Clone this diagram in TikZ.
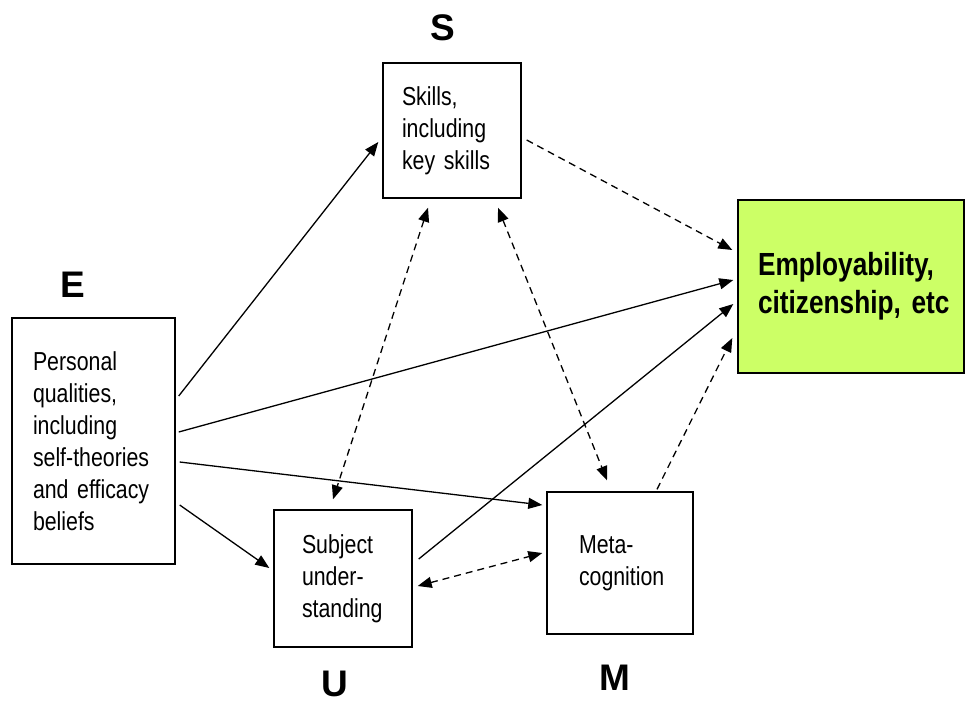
\documentclass[tikz,border=0pt]{standalone}
\usepackage{fontspec}
\setmainfont{Liberation Sans}
\newfontfamily\boxfont[FakeStretch=0.82]{Liberation Sans}
\usetikzlibrary{arrows.meta}
\definecolor{empgreen}{HTML}{CCFF66}
\tikzset{
  box/.style={draw, line width=1.4pt, inner ysep=0pt, align=left,
              font=\boxfont\fontsize{26}{32}\selectfont},
  letter/.style={font=\fontsize{37}{40}\selectfont\bfseries, inner sep=0pt},
  link/.style={line width=1.3pt, -{Triangle[length=14pt,width=11pt]}},
  dlink/.style={link, dash pattern=on 7pt off 5pt},
  ddlink/.style={dlink, {Triangle[length=14pt,width=11pt]}-{Triangle[length=14pt,width=11pt]}},
}
\begin{document}
\begin{tikzpicture}[x=1pt,y=-1pt]

\useasboundingbox (0,0) rectangle (965,702);

 % boxes
 \node[box, text width=100pt, inner xsep=19pt, minimum height=135pt] (S) at (452,130.5)
      {Skills,\\\mbox{including}\\\mbox{key skills}};
 \node[box, text width=121pt, inner xsep=21pt, minimum height=246pt] (E) at (93.5,441)
      {Personal\\\mbox{qualities,}\\\mbox{including}\\\mbox{self-theories}\\\mbox{and efficacy}\\beliefs};
 \node[box, text width=82pt, inner xsep=28pt, minimum height=137pt] (U) at (343,578.5)
      {Subject\\under-\\\mbox{standing}};
 \node[box, text width=82pt, inner xsep=32pt, minimum height=142pt] (M) at (620,563)
      {Meta-\\\mbox{cognition}};
 \node[box, fill=empgreen, text width=186pt, inner xsep=20pt, minimum height=173pt,
       font=\boxfont\bfseries\fontsize{32}{38}\selectfont] (Emp) at (851,286.5)
      {\mbox{Employability,}\\\mbox{citizenship, etc}};

 % letters
 \node[letter] (lS) at (443,28) {S};
 \node[letter] (lE) at (73,285) {E};
 \node[letter] (lU) at (335,684) {U};
 \node[letter] (lM) at (615,678) {M};

 % solid arrows
 \draw[link] ([xshift=3pt,yshift=45pt]E.east) -- ([xshift=-4pt,yshift=-11.5pt]S.west);
 \draw[link] ([xshift=3pt,yshift=9pt]E.east) -- ([xshift=-4pt,yshift=6.5pt]Emp.west);
 \draw[link] ([xshift=4pt,yshift=-21pt]E.east) -- ([xshift=-4pt,yshift=58pt]M.west);
 \draw[link] ([xshift=4pt,yshift=-64pt]E.east) -- ([xshift=-4pt,yshift=10.5pt]U.west);
 \draw[link] ([xshift=6pt,yshift=19.5pt]U.east) -- ([xshift=-4pt,yshift=-17.5pt]Emp.west);

 % dashed arrows
 \draw[dlink] ([xshift=5pt,yshift=-9.5pt]S.east) -- ([xshift=-5pt,yshift=36.5pt]Emp.west);
 \draw[dlink] ([xshift=37pt,yshift=2pt]M.north) -- ([xshift=-5pt,yshift=-51.5pt]Emp.west);
 \draw[ddlink] ([xshift=-24pt,yshift=-9pt]S.south) -- ([xshift=-10pt,yshift=10pt]U.north);
 \draw[ddlink] ([xshift=46pt,yshift=-9pt]S.south) -- ([xshift=-13pt,yshift=11pt]M.north);
 \draw[ddlink] ([xshift=5pt,yshift=-7.5pt]U.east) -- ([xshift=-4pt,yshift=10pt]M.west);

\end{tikzpicture}
\end{document}
